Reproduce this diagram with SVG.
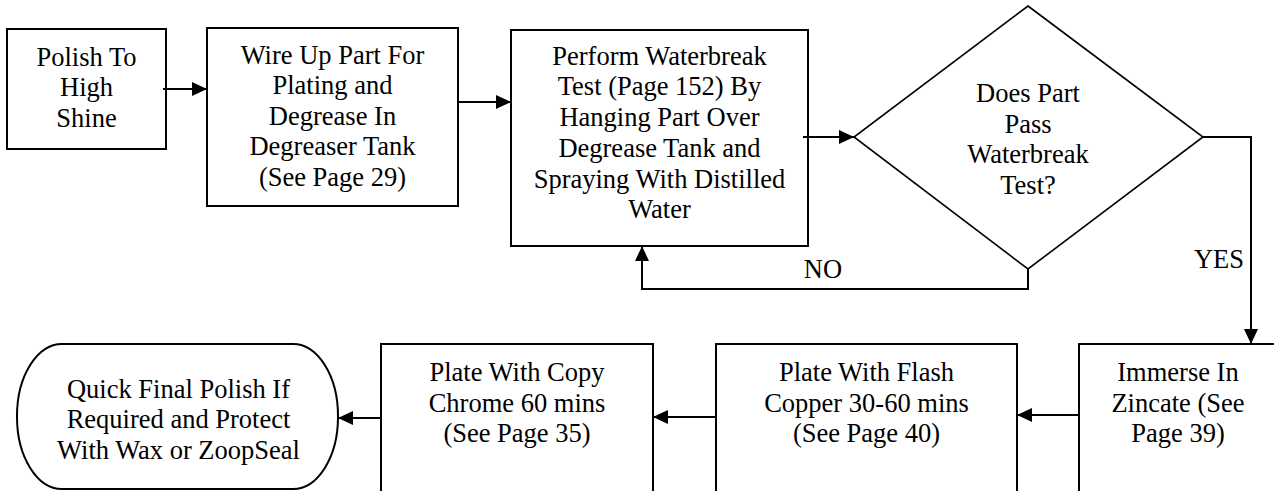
<svg xmlns="http://www.w3.org/2000/svg" width="1274" height="491" viewBox="0 0 1274 491">
<style>
.box{fill:#fff;stroke:#000;stroke-width:2}
.dia{fill:#fff;stroke:#000;stroke-width:1.6}
text{font-size:26.5px;fill:#000;text-anchor:middle}
.c{fill:none;stroke:#000;stroke-width:2;marker-end:url(#ah)}
</style>
<defs>
<marker id="ah" markerUnits="userSpaceOnUse" markerWidth="15" markerHeight="14" refX="15" refY="7" orient="auto">
<path d="M0,0 L15,7 L0,14 z" fill="#000"/>
</marker>
</defs>
<rect width="1274" height="491" fill="#fff"/>
<g font-family="'Liberation Serif', 'Times New Roman', Tinos, 'DejaVu Serif', serif">
<g id="n1">
<rect class="box" x="7" y="29" width="159" height="120"/>
<text x="86.5" y="65.5">Polish To</text>
<text x="86.5" y="96">High</text>
<text x="86.5" y="126.5">Shine</text>
</g>
<g id="n2">
<rect class="box" x="207" y="28" width="251" height="178"/>
<text x="332.5" y="63.5">Wire Up Part For</text>
<text x="332.5" y="94">Plating and</text>
<text x="332.5" y="124.5">Degrease In</text>
<text x="332.5" y="155">Degreaser Tank</text>
<text x="332.5" y="185.5">(See Page 29)</text>
</g>
<g id="n3">
<rect class="box" x="511" y="30" width="297" height="216"/>
<text x="659.5" y="64.5">Perform Waterbreak</text>
<text x="659.5" y="95.3">Test (Page 152) By</text>
<text x="659.5" y="126">Hanging Part Over</text>
<text x="659.5" y="156.8">Degrease Tank and</text>
<text x="659.5" y="187.6">Spraying With Distilled</text>
<text x="659.5" y="218.4">Water</text>
</g>
<g id="n4">
<polygon class="dia" points="1028,6 1203,137 1028,269 854,137"/>
<text x="1028" y="102">Does Part</text>
<text x="1028" y="132.5">Pass</text>
<text x="1028" y="163">Waterbreak</text>
<text x="1028" y="193.5">Test?</text>
</g>
<g id="n5">
<rect class="box" x="1079" y="344" width="200" height="200"/>
<text x="1178" y="381">Immerse In</text>
<text x="1178" y="411.5">Zincate (See</text>
<text x="1178" y="442">Page 39)</text>
</g>
<g id="n6">
<rect class="box" x="716" y="344" width="301" height="200"/>
<text x="866.5" y="381">Plate With Flash</text>
<text x="866.5" y="411.5">Copper 30-60 mins</text>
<text x="866.5" y="442">(See Page 40)</text>
</g>
<g id="n7">
<rect class="box" x="381" y="344" width="272" height="200"/>
<text x="517" y="381">Plate With Copy</text>
<text x="517" y="411.5">Chrome 60 mins</text>
<text x="517" y="442">(See Page 35)</text>
</g>
<g id="n8">
<rect class="box" x="17" y="344" width="321" height="145" rx="45" ry="72"/>
<text x="178.5" y="397.5">Quick Final Polish If</text>
<text x="178.5" y="428.3">Required and Protect</text>
<text x="178.5" y="459">With Wax or ZoopSeal</text>
</g>
<g id="connectors">
<path class="c" d="M163,89 H207"/>
<path class="c" d="M458,102 H511"/>
<path class="c" d="M803,137 H854"/>
<path class="c" d="M1028,269 V289 H642 V246"/>
<path class="c" d="M1203,137 H1251 V344"/>
<path class="c" d="M1079,415 H1017"/>
<path class="c" d="M716,417 H653"/>
<path class="c" d="M381,418 H338"/>
<text x="823" y="278">NO</text>
<text x="1219" y="268">YES</text>
</g>
</g>
</svg>
